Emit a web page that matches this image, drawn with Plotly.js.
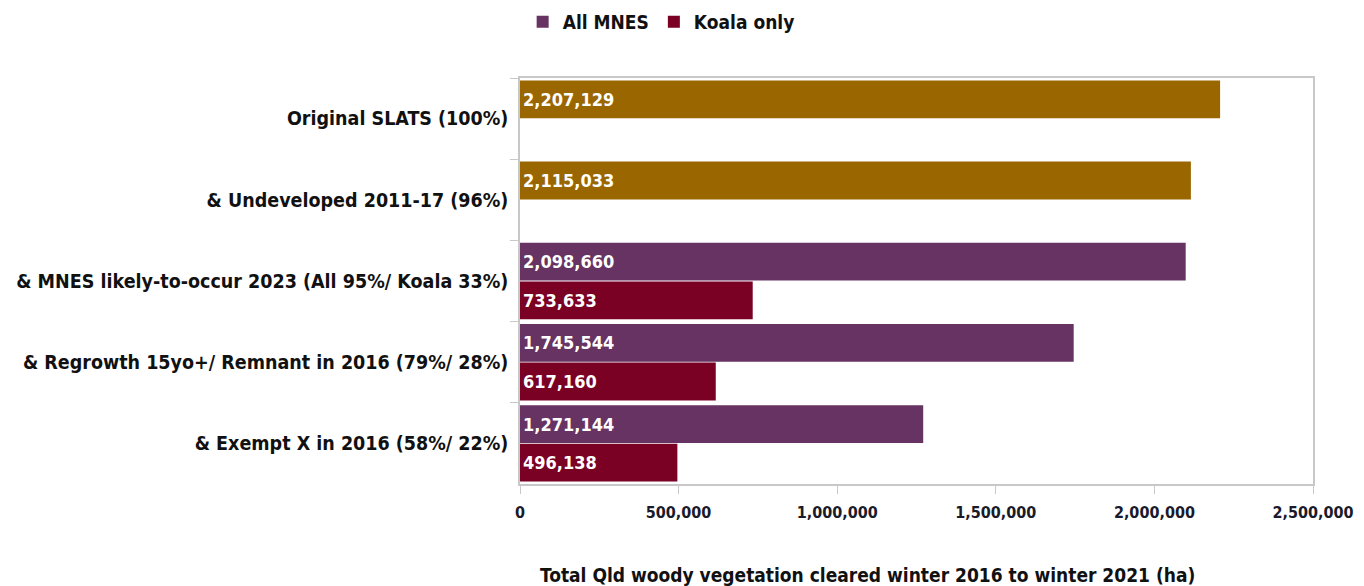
<!DOCTYPE html>
<html>
<head>
<meta charset="utf-8">
<script src="https://cdn.plot.ly/plotly-3.0.1.min.js"></script>
<style>html,body{margin:0;padding:0;background:#fff;}#chart{width:1364px;height:586px;}</style>
</head>
<body>
<div id="chart"></div>
<script>
const categories = [
  "Original SLATS (100%)",
  "& Undeveloped 2011-17 (96%)",
  "& MNES likely-to-occur 2023 (All 95%/ Koala 33%)",
  "& Regrowth 15yo+/ Remnant in 2016 (79%/ 28%)",
  "& Exempt X in 2016 (58%/ 22%)"
];
const slatsValues = [2207129, 2115033, null, null, null];
const allMnesValues = [null, null, 2098660, 1745544, 1271144];
const koalaValues = [null, null, 733633, 617160, 496138];
const xTickValues = [0, 500000, 1000000, 1500000, 2000000, 2500000];

const FONT = "'Liberation Sans Narrow', 'Arial Narrow', 'DejaVu Sans Condensed', sans-serif";
const textFont = {family: FONT, size: 18, color: '#ffffff', weight: 700};

const common = {
  type: 'bar', orientation: 'h', y: categories,
  texttemplate: '%{x:,}', textposition: 'inside', insidetextanchor: 'start',
  textfont: textFont, constraintext: 'none', hoverinfo: 'x+y'
};

const data = [
  Object.assign({}, common, {name: 'Original SLATS', x: slatsValues, offsetgroup: 'a',
    marker: {color: '#9a6600'}, showlegend: false}),
  Object.assign({}, common, {name: 'All MNES', x: allMnesValues, offsetgroup: 'a',
    marker: {color: '#663362'}}),
  Object.assign({}, common, {name: 'Koala only', x: koalaValues, offsetgroup: 'b',
    marker: {color: '#7a0024'}})
];

const layout = {
  width: 1364, height: 586,
  margin: {l: 520, r: 51, t: 78, b: 102, autoexpand: false},
  paper_bgcolor: '#ffffff', plot_bgcolor: '#ffffff',
  barmode: 'group', bargap: 0.05, bargroupgap: 0.02,
  font: {family: FONT, color: '#111111'},
  showlegend: true,
  legend: {orientation: 'h', x: 0.178, xanchor: 'center', y: 1.138, yanchor: 'middle',
    font: {family: FONT, size: 19, color: '#111111', weight: 700}, itemwidth: 30},
  xaxis: {
    range: [0, 2500000], tickvals: xTickValues, tickformat: ',',
    showgrid: false, zeroline: false, showline: true, linecolor: '#c8c8c8', linewidth: 1.5,
    mirror: true, ticks: 'outside', ticklen: 8, tickcolor: '#c8c8c8',
    ticklabelstandoff: 5,
    tickfont: {family: FONT, size: 16, color: '#1a1a2a', weight: 600}
  },
  yaxis: {
    autorange: 'reversed', type: 'category',
    showgrid: false, zeroline: false, showline: true, linecolor: '#c8c8c8', linewidth: 1.5,
    mirror: true, ticks: 'outside', tickson: 'boundaries', ticklen: 8, tickcolor: '#c8c8c8',
    ticklabelstandoff: 6,
    tickfont: {family: FONT, size: 19.5, color: '#111111', weight: 700}
  },
  annotations: [{
    xref: 'paper', yref: 'paper', x: 0.4376, y: -0.224, xanchor: 'center', yanchor: 'middle',
    text: 'Total Qld woody vegetation cleared winter 2016 to winter 2021 (ha)', showarrow: false,
    font: {family: FONT, size: 19, color: '#111111', weight: 700}
  }]
};

Plotly.newPlot('chart', data, layout, {displayModeBar: false, responsive: false});
</script>
</body>
</html>
